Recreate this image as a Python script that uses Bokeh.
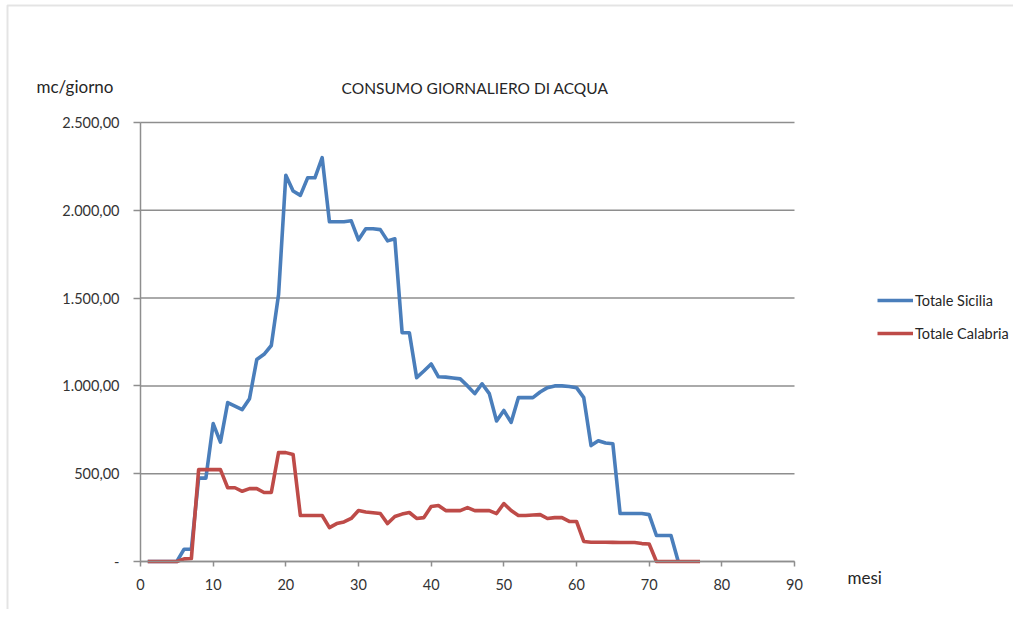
from bokeh.plotting import figure
from bokeh.models import (Range1d, Label, Legend, LegendItem, FixedTicker,
                          LinearAxis, BoxAnnotation)
from bokeh.embed import file_html
from bokeh.resources import INLINE

# ---- data ----
mesi_sicilia = list(range(1, 75))
totale_sicilia = [0, 0, 0, 0, 0, 70, 70, 475, 475, 785,
                  680, 905, 885, 865, 927, 1150, 1180, 1230, 1520, 2200,
                  2110, 2085, 2185, 2185, 2300, 1935, 1935, 1935, 1940, 1832,
                  1895, 1895, 1890, 1826, 1838, 1303, 1303, 1047, 1085, 1125,
                  1052, 1050, 1045, 1040, 1000, 956, 1012, 956, 800, 860,
                  792, 933, 933, 933, 965, 990, 1000, 1000, 997, 990,
                  933, 660, 688, 675, 671, 273, 273, 273, 273, 267,
                  148, 148, 148, 0]
mesi_calabria = list(range(1, 78))
totale_calabria = [0, 0, 0, 0, 0, 15, 17, 523, 523, 523,
                   523, 420, 420, 400, 415, 415, 393, 393, 620, 620,
                   609, 262, 262, 262, 262, 193, 216, 225, 245, 290,
                   282, 278, 273, 216, 256, 270, 279, 245, 250, 313,
                   319, 290, 290, 290, 307, 290, 290, 290, 273, 330,
                   290, 262, 262, 265, 267, 245, 250, 250, 228, 228,
                   114, 110, 110, 110, 109, 108, 108, 108, 102, 100,
                   0, 0, 0, 0, 0, 0, 0]
x_ticks = [0, 10, 20, 30, 40, 50, 60, 70, 80, 90]
y_ticks = [0, 500, 1000, 1500, 2000, 2500]
y_tick_labels = ["-", "500,00", "1.000,00", "1.500,00", "2.000,00", "2.500,00"]
series_names = ["Totale Sicilia", "Totale Calabria"]
title_text = "CONSUMO GIORNALIERO DI ACQUA"
y_label_text = "mc/giorno"
x_label_text = "mesi"

FONT = "Lato"
BLUE = "#4a7ebb"
RED = "#be4b48"
GRID = "#8e8e8e"
TXT = "#262626"

W, H = 1013, 609
# frame covers the whole canvas; the data window 0..90 x 0..2500 sits at
# pixels 140..794 x 561..122 (as in the reference)
px_per_x = (794 - 140) / 90.0
u_per_py = 2500.0 / (561 - 122)
x_range = Range1d(-140 / px_per_x, (W - 140) / px_per_x)
y_range = Range1d(-(H - 561) * u_per_py, 561 * u_per_py)

p = figure(width=W, height=H, output_backend="svg", toolbar_location=None,
           x_range=x_range, y_range=y_range,
           x_axis_location=None, y_axis_location=None)
p.min_border_left = 0
p.min_border_right = 0
p.min_border_top = 0
p.min_border_bottom = 0
p.outline_line_color = None
p.background_fill_color = "white"
p.border_fill_color = "white"
p.xgrid.visible = False
p.ygrid.visible = False

# outer chart border (left and top visible in the reference)
p.add_layout(BoxAnnotation(left=(7 - 140) / px_per_x, right=1000,
                           top=(561 - 5) * u_per_py, bottom=-100000,
                           fill_alpha=0, line_color="#a6a6a6", line_width=2))

# horizontal gridlines between x axis bounds
n = len(y_ticks)
p.segment(x0=[x_ticks[0]] * n, x1=[x_ticks[-1]] * n, y0=y_ticks, y1=y_ticks,
          line_color=GRID, line_width=1.5)

# axes fixed at 0
xaxis = LinearAxis(fixed_location=0, bounds=(x_ticks[0], x_ticks[-1]),
                   ticker=FixedTicker(ticks=x_ticks))
yaxis = LinearAxis(fixed_location=0, bounds=(y_ticks[0], y_ticks[-1]),
                   ticker=FixedTicker(ticks=y_ticks))
yaxis.major_label_overrides = {t: l for t, l in zip(y_ticks, y_tick_labels)}
for ax in (xaxis, yaxis):
    ax.axis_line_color = GRID
    ax.axis_line_width = 1.5
    ax.major_tick_line_color = GRID
    ax.major_tick_line_width = 1.5
    ax.major_tick_in = 0
    ax.minor_tick_line_color = None
    ax.major_label_text_font = FONT
    ax.major_label_text_font_size = "14.5px"
    ax.major_label_text_color = "#333333"
xaxis.major_tick_out = 5
xaxis.major_label_standoff = 12
yaxis.major_tick_out = 7
yaxis.major_label_standoff = 14
p.add_layout(xaxis, "below")
p.add_layout(yaxis, "left")

# series
r1 = p.line(mesi_sicilia, totale_sicilia, line_color=BLUE, line_width=3.6, line_join="round")
r2 = p.line(mesi_calabria, totale_calabria, line_color=RED, line_width=3.6, line_join="round")

legend = Legend(items=[LegendItem(label=series_names[0], renderers=[r1]),
                       LegendItem(label=series_names[1], renderers=[r2])],
                location=(877, H - 343), padding=0, margin=0, spacing=13,
                glyph_width=36, glyph_height=20, label_standoff=2,
                label_text_font=FONT, label_text_font_size="14.5px",
                label_text_color=TXT,
                border_line_color=None, background_fill_alpha=0)
p.add_layout(legend)

# texts
p.add_layout(Label(x=(474.5 - 140) / px_per_x, y=(561 - 87) * u_per_py,
                   text=title_text, text_align="center",
                   text_baseline="alphabetic", text_font=FONT, text_font_size="15.5px",
                   text_color=TXT))
p.add_layout(Label(x=(36 - 140) / px_per_x, y=(561 - 86) * u_per_py,
                   text=y_label_text, text_align="left",
                   text_baseline="alphabetic", text_font=FONT, text_font_size="17px",
                   text_color=TXT))
p.add_layout(Label(x=(847 - 140) / px_per_x, y=(561 - 577) * u_per_py,
                   text=x_label_text, text_align="left",
                   text_baseline="alphabetic", text_font=FONT, text_font_size="17px",
                   text_color=TXT))

open("out.html", "w").write(file_html(p, INLINE))
